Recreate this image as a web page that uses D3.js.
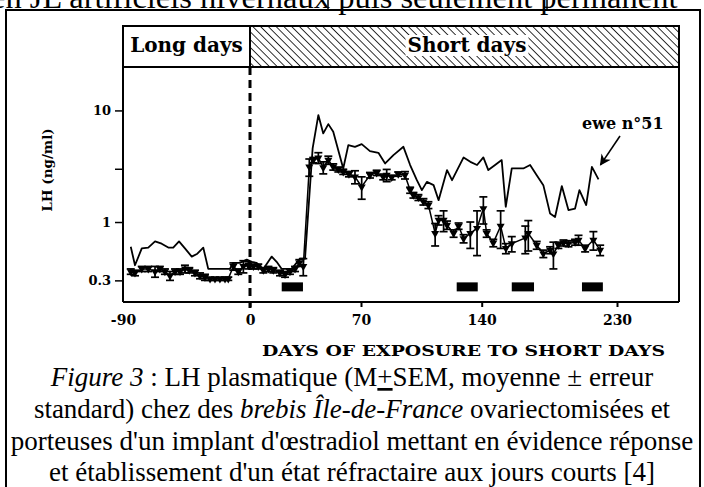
<!DOCTYPE html>
<html><head><meta charset="utf-8">
<script src="https://cdn.jsdelivr.net/npm/d3@7"></script>
<style>body{margin:0;background:#fff}svg{display:block}</style>
</head><body>
<svg id="c" width="704" height="487"></svg>
<script>
// ---------- data ----------
const xTickValues = [-90, 0, 70, 140, 230];
const yTickValues = [0.3, 1, 3, 10];
const yTickLabels = ["0.3", "1", "", "10"];
const periods = ["Long days", "Short days"];

const ewe51Days = [-84.5,-81.5,-76.7,-72.1,-67.3,-62.6,-57.9,-54.4,-50.3,-46.1,-41.3,-37.3,-33.1,-29.6,-14.2,-12.1,-7.1,-2.3,1.1,4.2,8.4,13.7,16.8,20.0,26.3,31.5,34.7,39.5,43.1,46.2,49.4,52.5,58.8,62.0,66.2,70.4,75.2,80.1,84.0,88.8,94.6,98.5,102.4,105.3,108.2,112.1,115.0,119.9,122.8,129.5,133.4,137.3,141.1,144.4,148.9,153.3,156.0,160.0,167.7,172.2,176.6,181.0,185.5,188.8,193.3,197.7,202.1,205.0,209.5,213.3,217.7];
const ewe51LH = [0.60,0.41,0.58,0.59,0.67,0.64,0.59,0.59,0.67,0.58,0.49,0.52,0.59,0.38,0.38,0.43,0.43,0.46,0.44,0.43,0.38,0.49,0.44,0.38,0.38,0.47,0.47,4.57,9.08,6.22,7.54,6.43,3.02,4.89,4.72,4.99,4.32,4.17,3.35,3.98,4.72,3.24,2.37,1.93,2.29,2.14,1.57,2.92,2.37,3.79,3.46,3.24,3.79,2.92,3.24,3.59,1.37,3.02,3.02,3.24,2.63,2.14,1.19,1.11,2.10,1.28,1.32,1.93,1.42,3.12,2.41];

const meanDays = [-84.5,-81.5,-76.7,-72.1,-67.3,-63.9,-60.3,-56.7,-53.1,-49.6,-46.1,-43.0,-39.0,-35.4,-31.9,-28.3,-24.8,-21.3,-17.7,-15.4,-11.8,-8.3,-4.7,-1.2,2.1,5.2,8.4,11.6,14.7,18.9,22.1,25.2,28.4,31.1,33.6,37.4,39.9,43.1,46.2,49.4,52.5,55.7,58.8,62.4,66.2,70.4,75.2,79.1,82.9,84.9,87.8,91.6,95.5,98.5,100.4,103.3,106.2,109.1,113.0,115.0,117.9,119.9,123.7,126.6,129.5,133.4,137.3,141.1,143.3,147.7,152.6,156.1,160.0,169.0,171.0,176.6,181.0,185.5,187.7,191.0,194.4,197.7,202.1,204.4,208.8,214.3,218.8];
const meanLH = [0.36,0.35,0.38,0.38,0.36,0.38,0.36,0.33,0.36,0.36,0.38,0.37,0.35,0.33,0.32,0.31,0.31,0.31,0.31,0.31,0.40,0.36,0.40,0.41,0.40,0.40,0.37,0.38,0.37,0.35,0.34,0.36,0.38,0.43,0.40,3.12,3.59,3.76,3.08,3.59,3.12,2.96,2.82,2.69,2.54,2.07,2.63,2.76,2.54,2.63,2.51,2.69,2.63,1.93,1.74,1.66,1.52,1.42,0.79,1.04,1.04,0.94,0.79,0.92,0.71,0.79,0.88,1.32,0.79,0.65,0.92,0.58,0.64,0.72,0.79,0.62,0.52,0.56,0.52,0.62,0.65,0.64,0.66,0.69,0.58,0.69,0.56];
const meanSEM = [0.02,0.02,0.02,0.02,0.04,0.02,0.02,0.03,0.02,0.02,0.03,0.02,0.02,0.02,0.02,0.01,0.01,0.01,0.01,0.01,0.03,0.02,0.05,0.03,0.02,0.02,0.02,0.02,0.02,0.02,0.02,0.02,0.02,0.03,0.07,0.55,0.2,0.42,0.38,0.3,0.2,0.15,0.15,0.15,0.34,0.47,0.15,0.15,0.15,0.33,0.12,0.12,0.2,0.12,0.1,0.1,0.1,0.1,0.18,0.1,0.22,0.08,0.06,0.06,0.06,0.21,0.38,0.36,0.06,0.05,0.34,0.06,0.1,0.2,0.24,0.05,0.04,0.04,0.14,0.04,0.04,0.04,0.04,0.07,0.04,0.13,0.06];

const barStart = [20, 125.5, 160, 206.7];
const barEnd = [33.4, 137.7, 174.8, 220.6];

const topLine = "en JL artificiels hivernaux puis seulement permanent";
const xTitle = "DAYS OF EXPOSURE TO SHORT DAYS";
const yTitle = "LH (ng/ml)";
const eweLabel = "ewe n°51";

// ---------- layout ----------
const svg = d3.select("#c");
const L = 123, R = 679, T = 67, B = 302, HT = 26;
const x = d3.scaleLinear().domain([-90, 0, 70, 140, 230, 271]).range([L, 250, 361, 481.7, 617, R]);
const y = d3.scaleLog().domain([0.192, 24.5]).range([B, T]);
const serifB = "'DejaVu Serif', serif";
const times = "'Liberation Serif', 'Times New Roman', serif";

// outer frame + clipped top line of text (cut by the page edge, as in the reference)
svg.append("text").attr("x", -9).attr("y", 8).attr("font-family", times).attr("font-size", 32.5).text(topLine);
svg.append("rect").attr("x", 6).attr("y", 10).attr("width", 694).attr("height", 490)
  .attr("fill", "none").attr("stroke", "#000").attr("stroke-width", 2);
[328, 547].forEach(v => svg.append("line").attr("x1", v).attr("x2", v).attr("y1", 0).attr("y2", 10).attr("stroke", "#000").attr("stroke-width", 1.5));

// hatch pattern
const defs = svg.append("defs");
const pat = defs.append("pattern").attr("id", "hatch").attr("patternUnits", "userSpaceOnUse")
  .attr("width", 5.5).attr("height", 5.5).attr("patternTransform", "rotate(-45)");
pat.append("line").attr("x1", 0).attr("y1", 0).attr("x2", 0).attr("y2", 5.5).attr("stroke", "#000").attr("stroke-width", 1.6);

// header
svg.append("rect").attr("x", x(0)).attr("y", HT).attr("width", R - x(0)).attr("height", T - HT).attr("fill", "url(#hatch)");
svg.append("rect").attr("x", L).attr("y", HT).attr("width", R - L).attr("height", T - HT)
  .attr("fill", "none").attr("stroke", "#000").attr("stroke-width", 2);
svg.append("line").attr("x1", x(0)).attr("x2", x(0)).attr("y1", HT).attr("y2", T).attr("stroke", "#000").attr("stroke-width", 2);
svg.append("text").attr("x", (L + x(0)) / 2).attr("y", 52).attr("text-anchor", "middle")
  .attr("font-family", serifB).attr("font-weight", "bold").attr("font-size", 20).text(periods[0]);
const sdBg = svg.append("rect").attr("fill", "#fff");
const sd = svg.append("text").attr("x", 467).attr("y", 52).attr("text-anchor", "middle")
  .attr("font-family", serifB).attr("font-weight", "bold").attr("font-size", 20).text(periods[1]);
const bb = sd.node().getBBox();
sdBg.attr("x", bb.x - 2).attr("y", bb.y + 2).attr("width", bb.width + 4).attr("height", bb.height - 3);

// frame
svg.append("line").attr("x1", R).attr("x2", R).attr("y1", T).attr("y2", B).attr("stroke", "#000").attr("stroke-width", 2);

// axes
const xAxis = svg.append("g").attr("transform", `translate(0,${B})`)
  .call(d3.axisBottom(x).tickValues(xTickValues).tickSize(5).tickPadding(8).tickFormat(d => d));
xAxis.select(".domain").attr("d", `M${L},0H${R}`).attr("stroke-width", 2);
xAxis.selectAll(".tick line").attr("stroke-width", 2).filter(d => d === -90).remove();
xAxis.selectAll("text").attr("font-family", serifB).attr("font-weight", "bold").attr("font-size", 14).attr("fill", "#000");

const yAxis = svg.append("g").attr("transform", `translate(${L},0)`)
  .call(d3.axisLeft(y).tickValues(yTickValues).tickSize(8).tickPadding(4).tickFormat((d, i) => yTickLabels[i]));
yAxis.select(".domain").attr("d", `M0,${T}V${B}`).attr("stroke-width", 2);
yAxis.selectAll(".tick line").attr("stroke-width", 1.5);
yAxis.selectAll("text").attr("font-family", serifB).attr("font-weight", "bold").attr("font-size", 13).attr("fill", "#000");

svg.append("text").attr("transform", `translate(52,170) rotate(-90)`).attr("text-anchor", "middle")
  .attr("font-family", serifB).attr("font-weight", "bold").attr("font-size", 13.5).text(yTitle);
svg.append("text").attr("x", 262).attr("y", 356).attr("textLength", 403).attr("lengthAdjust", "spacingAndGlyphs")
  .attr("font-family", serifB).attr("font-weight", "bold").attr("font-size", 14).text(xTitle);

// dashed line at day 0
svg.append("line").attr("x1", x(0)).attr("x2", x(0)).attr("y1", T).attr("y2", B + 6)
  .attr("stroke", "#000").attr("stroke-width", 3).attr("stroke-dasharray", "8,5");

// ewe 51
const line = d3.line().x(d => x(d[0])).y(d => y(d[1]));
svg.append("path").datum(ewe51Days.map((d, i) => [d, ewe51LH[i]])).attr("d", line)
  .attr("fill", "none").attr("stroke", "#000").attr("stroke-width", 1.8).attr("stroke-linejoin", "round");

// mean ± SEM
const meanData = meanDays.map((d, i) => ({d, v: meanLH[i], s: meanSEM[i]}));
svg.append("path").datum(meanData.map(p => [p.d, p.v])).attr("d", line)
  .attr("fill", "none").attr("stroke", "#000").attr("stroke-width", 1.5);
const eb = svg.append("g").attr("stroke", "#000").attr("stroke-width", 1.7);
meanData.forEach(p => {
  const cx = x(p.d), y1 = y(p.v + p.s), y2 = y(Math.max(p.v - p.s, 0.2));
  eb.append("line").attr("x1", cx).attr("x2", cx).attr("y1", y1).attr("y2", y2);
  eb.append("line").attr("x1", cx - 4).attr("x2", cx + 4).attr("y1", y1).attr("y2", y1);
  eb.append("line").attr("x1", cx - 4).attr("x2", cx + 4).attr("y1", y2).attr("y2", y2);
});
svg.append("g").selectAll("path").data(meanData).join("path")
  .attr("d", d3.symbol(d3.symbolTriangle, 28))
  .attr("transform", p => `translate(${x(p.d)},${y(p.v)}) rotate(180)`).attr("fill", "#000");

// black bars
svg.append("g").selectAll("rect").data(barStart).join("rect")
  .attr("x", d => x(d)).attr("width", (d, i) => x(barEnd[i]) - x(d))
  .attr("y", y(0.3) + 2).attr("height", 9).attr("fill", "#000");

// ewe label + arrow
defs.append("marker").attr("id", "arr").attr("viewBox", "0 0 10 10").attr("refX", 9).attr("refY", 5)
  .attr("markerWidth", 7).attr("markerHeight", 7).attr("orient", "auto")
  .append("path").attr("d", "M0,0L10,5L0,10L3,5Z").attr("fill", "#000");
svg.append("text").attr("x", 582).attr("y", 129).attr("font-family", serifB).attr("font-weight", "bold").attr("font-size", 16).text(eweLabel);
svg.append("line").attr("x1", 620).attr("y1", 136).attr("x2", x(217.7) + 2).attr("y2", y(3.12) - 2)
  .attr("stroke", "#000").attr("stroke-width", 1.6).attr("marker-end", "url(#arr)");

// caption
const cap = svg.append("g").attr("font-family", times).attr("font-size", 27).attr("text-anchor", "middle");
const l1 = cap.append("text").attr("x", 352).attr("y", 386);
l1.append("tspan").attr("font-style", "italic").text("Figure 3");
l1.append("tspan").text(" : LH plasmatique (M");
l1.append("tspan").attr("text-decoration", "underline").text("+");
l1.append("tspan").text("SEM, moyenne ± erreur");
const l2 = cap.append("text").attr("x", 352).attr("y", 418);
l2.append("tspan").text("standard) chez des ");
l2.append("tspan").attr("font-style", "italic").text("brebis Île-de-France");
l2.append("tspan").text(" ovariectomisées et");
cap.append("text").attr("x", 352).attr("y", 450).text("porteuses d'un implant d'œstradiol mettant en évidence réponse");
cap.append("text").attr("x", 352).attr("y", 481).text("et établissement d'un état réfractaire aux jours courts [4]");
</script>
</body></html>
